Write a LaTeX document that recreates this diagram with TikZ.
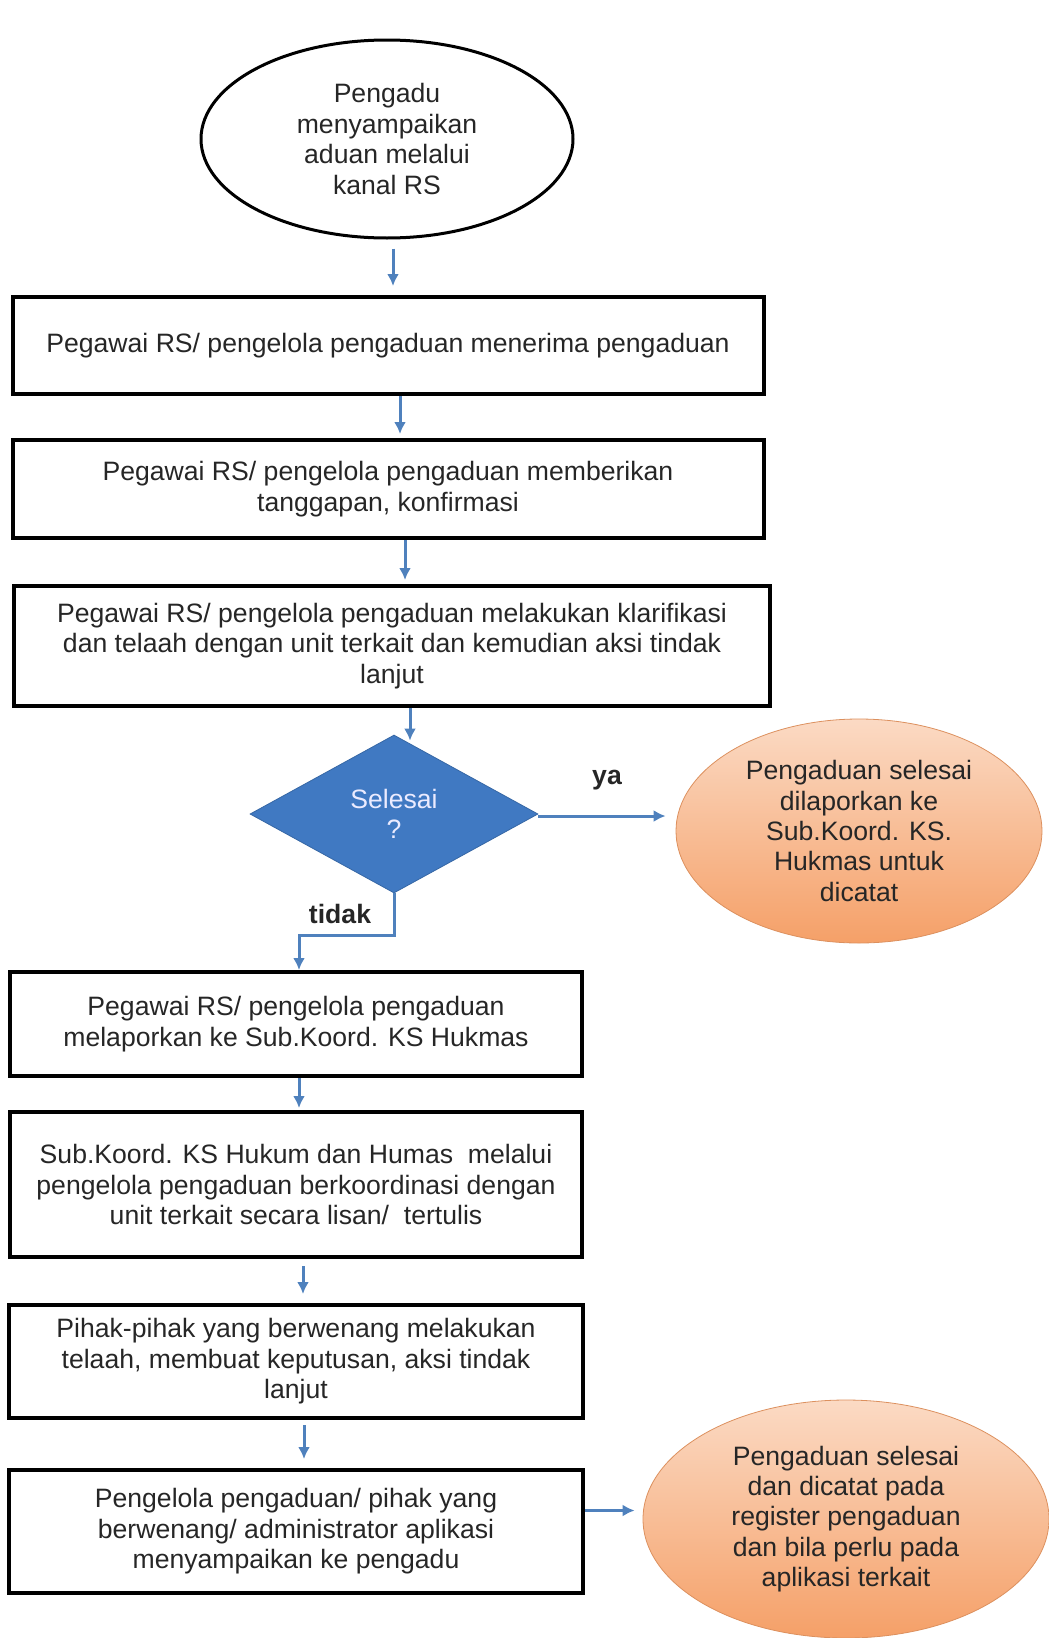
\documentclass[tikz,border=0pt]{standalone}
\usepackage{fontspec}
\setmainfont{Liberation Sans}
\usetikzlibrary{shapes.geometric,arrows.meta}
\definecolor{flowblue}{RGB}{79,129,189}
\definecolor{decblue}{RGB}{64,121,194}
\definecolor{peach}{RGB}{251,218,196}
\definecolor{deeporange}{RGB}{245,160,104}
\tikzset{>={Latex[length=6pt,width=6pt]}}
\tikzset{
  stepbox/.style = {draw,line width=2pt,rectangle,inner sep=0pt,align=center},
  startnode/.style = {draw,line width=1.5pt,ellipse,inner sep=0pt,align=center},
  decision/.style = {diamond,aspect=1.8,inner sep=0pt,fill=decblue,draw=decblue!85!black,
    text=blue!8!white,align=center},
  endnode/.style = {ellipse,inner sep=0pt,align=center,draw=deeporange!90!black,
    top color=peach,bottom color=deeporange},
  flow/.style = {->,draw=flowblue,line width=1.5pt}
}

\begin{document}
\begin{tikzpicture}[x=0.5pt,y=-0.5pt,
    every node/.style={font=\fontsize{13.3}{15.2}\selectfont,text=black!85}]
  \clip (0,0) rectangle (1049,1638);
  \node[startnode,minimum width=186pt,minimum height=99pt] (start) at (387,139)
    {Pengadu\\menyampaikan\\aduan melalui\\kanal RS};
  \node[stepbox,minimum width=375.5pt,minimum height=48.5pt] (b1) at (388,345.5)
    {Pegawai RS/ pengelola pengaduan menerima pengaduan};
  \node[stepbox,minimum width=375.5pt,minimum height=49pt] (b2) at (388,489)
    {Pegawai RS/ pengelola pengaduan memberikan\\tanggapan, konfirmasi};
  \node[stepbox,minimum width=378pt,minimum height=60pt] (b3) at (392,646)
    {Pegawai RS/ pengelola pengaduan melakukan klarifikasi\\dan telaah dengan unit terkait dan kemudian aksi tindak\\lanjut};
  \node[decision,minimum width=144pt,minimum height=79pt,text=blue!8!white] (dec) at (394,814)
    {Selesai\\?};
  \node[endnode,minimum width=183pt,minimum height=112pt] (yes) at (859,831)
    {Pengaduan selesai\\dilaporkan ke\\Sub.Koord. KS.\\Hukmas untuk\\dicatat};
  \node[stepbox,minimum width=286pt,minimum height=52pt] (b4) at (296,1024)
    {Pegawai RS/ pengelola pengaduan\\melaporkan ke Sub.Koord. KS Hukmas};
  \node[stepbox,minimum width=286pt,minimum height=72.5pt] (b5) at (296,1184.5)
    {Sub.Koord. KS Hukum dan Humas\ \ melalui\\pengelola pengaduan berkoordinasi dengan\\unit terkait secara lisan/\ \ tertulis};
  \node[stepbox,minimum width=287pt,minimum height=56.5pt] (b6) at (296,1361.5)
    {Pihak-pihak yang berwenang melakukan\\telaah, membuat keputusan, aksi tindak\\lanjut};
  \node[stepbox,minimum width=287pt,minimum height=61.5pt] (b7) at (296,1531.5)
    {Pengelola pengaduan/ pihak yang\\berwenang/ administrator aplikasi\\menyampaikan ke pengadu};
  \node[endnode,minimum width=203pt,minimum height=119pt] (done) at (846,1519)
    {Pengaduan selesai\\dan dicatat pada\\register pengaduan\\dan bila perlu pada\\aplikasi terkait};

  \draw[flow,shorten <=4.5pt,shorten >=4.5pt] ([xshift=3pt]start.south) -- ([xshift=3pt]start.south |- b1.north);
  \draw[flow,shorten >=2pt] ([xshift=6pt]b1.south) -- ([xshift=6pt]b1.south |- b2.north);
  \draw[flow,shorten >=2pt] ([xshift=8.5pt]b2.south) -- ([xshift=8.5pt]b2.south |- b3.north);
  \draw[flow,shorten >=-3pt] ([xshift=9pt]b3.south) -- ([xshift=9pt]b3.south |- dec.north);
  \draw[flow,shorten >=5pt] ([yshift=-1pt]dec.east) -- ([yshift=-1pt]dec.east -| yes.west)
    node[pos=0.5,above=9pt,font=\fontsize{13.3}{15.2}\selectfont\bfseries] (ya) {ya};
  \draw[flow] (dec.south) -- ++(0,42) -| ([xshift=1.5pt]b4.north);
  \node[font=\fontsize{13.3}{15.2}\selectfont\bfseries] (tidak) at (340,914) {tidak};
  \draw[flow,shorten >=1pt] ([xshift=1.5pt]b4.south) -- ([xshift=1.5pt]b4.south |- b5.north);
  \draw[flow,shorten <=3.5pt,shorten >=4.5pt] ([xshift=3.5pt]b5.south) -- ([xshift=3.5pt]b5.south |- b6.north);
  \draw[flow,shorten <=2.5pt,shorten >=4.5pt] ([xshift=4pt]b6.south) -- ([xshift=4pt]b6.south |- b7.north);
  \draw[flow,shorten >=4pt] ([yshift=10.5pt]b7.east) -- ([yshift=10.5pt]b7.east -| done.west);
\end{tikzpicture}
\end{document}
